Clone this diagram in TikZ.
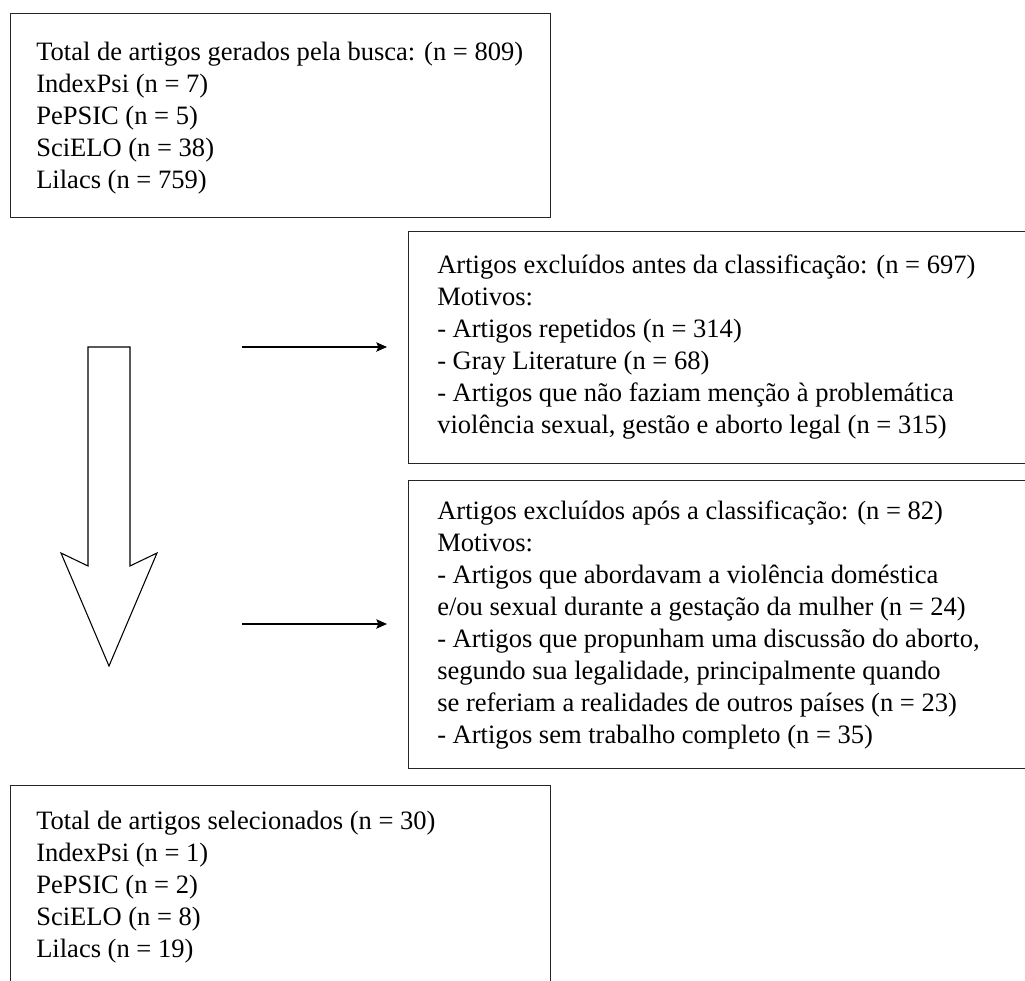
\documentclass[tikz,border=0pt]{standalone}
\usepackage{fontspec}
\setmainfont{Liberation Serif}
\usetikzlibrary{arrows.meta}

\tikzset{
  caixa/.style={draw=black!85, line width=0.9pt, anchor=north west, inner sep=0pt},
  texto/.style={anchor=north west, align=left, inner sep=0pt, font=\fontsize{19.9}{24}\selectfont},
  seta/.style={line width=0.8pt, -{Stealth[length=8pt,width=7pt,inset=1.5pt]}}
}

\begin{document}
\begin{tikzpicture}[x=0.75pt, y=-0.75pt]
\useasboundingbox (0,0) rectangle (1025,981);
\clip (0,0) rectangle (1025,981);

% Busca
\node[caixa, minimum width=405pt, minimum height=153pt] (busca) at (10,13) {};
\node[texto] (buscaTxt) at (36,42) {Total de artigos gerados pela busca: (n = 809)\\
IndexPsi (n = 7)\\
PePSIC (n = 5)\\
SciELO (n = 38)\\
Lilacs (n = 759)};

% Excluidos antes
\node[caixa, minimum width=472pt, minimum height=174pt] (antes) at (408,231) {};
\node[texto] (antesTxt) at (437,255) {Artigos excluídos antes da classificação: (n = 697)\\
Motivos:\\
- Artigos repetidos (n = 314)\\
- Gray Literature (n = 68)\\
- Artigos que não faziam menção à problemática\\
violência sexual, gestão e aborto legal (n = 315)};

% Excluidos apos
\node[caixa, minimum width=472pt, minimum height=216pt] (apos) at (408,480) {};
\node[texto] (aposTxt) at (437,501) {Artigos excluídos após a classificação: (n = 82)\\
Motivos:\\
- Artigos que abordavam a violência doméstica\\
e/ou sexual durante a gestação da mulher (n = 24)\\
- Artigos que propunham uma discussão do aborto,\\
segundo sua legalidade, principalmente quando\\
se referiam a realidades de outros países (n = 23)\\
- Artigos sem trabalho completo (n = 35)};

% Selecionados
\node[caixa, minimum width=405pt, minimum height=153pt] (selec) at (10,785) {};
\node[texto] (selecTxt) at (36,811) {Total de artigos selecionados (n = 30)\\
IndexPsi (n = 1)\\
PePSIC (n = 2)\\
SciELO (n = 8)\\
Lilacs (n = 19)};

% Seta grande
\draw[line width=0.8pt, fill=white] (88,347) -- (130,347) -- (130,566) -- (157,553)
  -- (109,666) -- (61,553) -- (88,566) -- cycle;

% Setas
\coordinate (ini1) at (242,347);
\coordinate (fim1) at (387,347);
\coordinate (ini2) at (242,624);
\coordinate (fim2) at (387,624);
\draw[seta] (ini1) -- (fim1);
\draw[seta] (ini2) -- (fim2);

\end{tikzpicture}
\end{document}
